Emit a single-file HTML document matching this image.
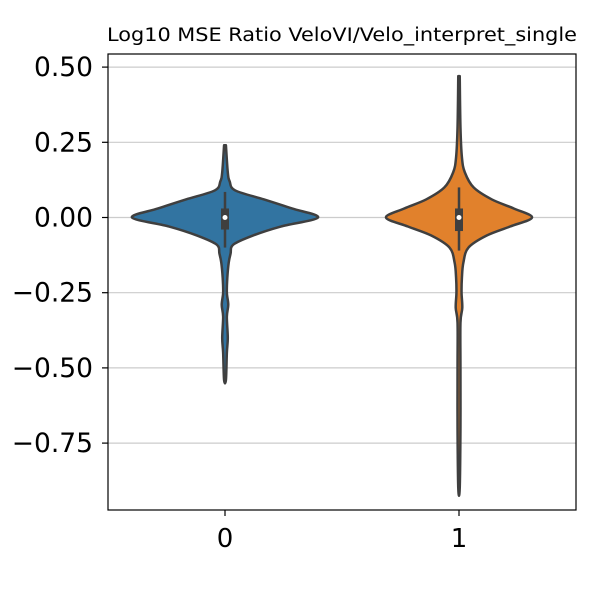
<!DOCTYPE html>
<html><head><meta charset="utf-8"><style>
body{margin:0;background:#fff}
svg text{font-family:"DejaVu Sans","Liberation Sans",sans-serif}
</style></head><body>
<svg id="c" width="600" height="600"></svg>
<script>
const categories=["0","1"];
const yTicks=[0.5,0.25,0,-0.25,-0.5,-0.75];
const yTickLabels=["0.50","0.25","0.00","\u22120.25","\u22120.50","\u22120.75"];
const vals0=[0.24,0.15,0.12,0.09,0.06,0.03,0.0,-0.03,-0.06,-0.09,-0.12,-0.15,-0.2,-0.25,-0.29,-0.33,-0.4,-0.45,-0.54];
const dens0=[0.01,0.03,0.05,0.11,0.42,0.72,1.0,0.6,0.3,0.09,0.06,0.04,0.025,0.02,0.035,0.02,0.03,0.02,0.01];
const vals1=[0.47,0.3,0.2,0.15,0.1,0.06,0.03,0,-0.03,-0.06,-0.1,-0.15,-0.2,-0.25,-0.3,-0.35,-0.5,-0.7,-0.9];
const dens1=[0.01,0.02,0.04,0.08,0.2,0.45,0.75,1,0.7,0.38,0.13,0.06,0.04,0.035,0.045,0.02,0.02,0.02,0.01];
const maxHalf=[93,73];
const q1=[-0.04,-0.045], q3=[0.03,0.03], wLo=[-0.1,-0.11], wHi=[0.085,0.1], medians=[0,0];
const colors=["#3274a1","#e1812c"];

const NS="http://www.w3.org/2000/svg";
const svg=document.getElementById('c');
const L=108,R=576,T=54,B=510;
const y=v=>217.5-v*300.8;
const x=i=>L+(R-L)*(i+0.5)/2;
function el(t,a,p){const e=document.createElementNS(NS,t);for(const k in a)e.setAttribute(k,a[k]);(p||svg).appendChild(e);return e;}

yTicks.forEach((t,i)=>{
  const g=el('line',{x1:L,x2:R,y1:y(t),y2:y(t),stroke:'#cccccc','stroke-width':1.2});
  
  
  el('line',{x1:L-6,x2:L,y1:y(t),y2:y(t),stroke:'#000','stroke-width':1.2});
  const tx=el('text',{x:L-15,y:y(t)+9,'text-anchor':'end','font-size':26.5});
  tx.textContent=yTickLabels[i];
  
  
});
categories.forEach((c,i)=>{
  el('line',{x1:x(i),x2:x(i),y1:B,y2:B+6,stroke:'#000','stroke-width':1.2});
  const tx=el('text',{x:x(i),y:547,'text-anchor':'middle','font-size':26});
  tx.textContent=c;
  
  
});
const sets=[[vals0,dens0],[vals1,dens1]];
sets.forEach(([vs,ds],i)=>{
  const cx=x(i),h=maxHalf[i];
  let pts=[];
  vs.forEach((v,k)=>pts.push([cx+ds[k]*h,y(v)]));
  for(let k=vs.length-1;k>=0;k--)pts.push([cx-ds[k]*h,y(vs[k])]);
  let d='M'+pts[0].join(',');
  for(let k=0;k<pts.length-1;k++){
    const p0=pts[Math.max(k-1,0)],p1=pts[k],p2=pts[k+1],p3=pts[Math.min(k+2,pts.length-1)];
    d+=' C'+(p1[0]+(p2[0]-p0[0])/6)+','+(p1[1]+(p2[1]-p0[1])/6)+' '+(p2[0]-(p3[0]-p1[0])/6)+','+(p2[1]-(p3[1]-p1[1])/6)+' '+p2[0]+','+p2[1];
  }
  d+='Z';
  const vp=el('path',{d:d,fill:colors[i],stroke:'#3f3f3f','stroke-width':2.5,'stroke-linejoin':'round'});
  
  
  el('line',{x1:cx,x2:cx,y1:y(wHi[i]),y2:y(wLo[i]),stroke:'#3f3f3f','stroke-width':2.5});
  const bx=el('rect',{x:cx-4,y:y(q3[i]),width:8,height:y(q1[i])-y(q3[i]),fill:'#3f3f3f'});
  
  
  el('circle',{cx:cx,cy:y(medians[i]),r:2.5,fill:'#fff'});
});
const fr=el('rect',{x:L,y:T,width:R-L,height:B-T,fill:'none',stroke:'#000','stroke-width':1.2});


const ti=el('text',{x:342,y:41,'text-anchor':'middle','font-size':18.5,textLength:470,lengthAdjust:'spacingAndGlyphs'});
ti.textContent='Log10 MSE Ratio VeloVI/Velo_interpret_single';


</script>
</body></html>
